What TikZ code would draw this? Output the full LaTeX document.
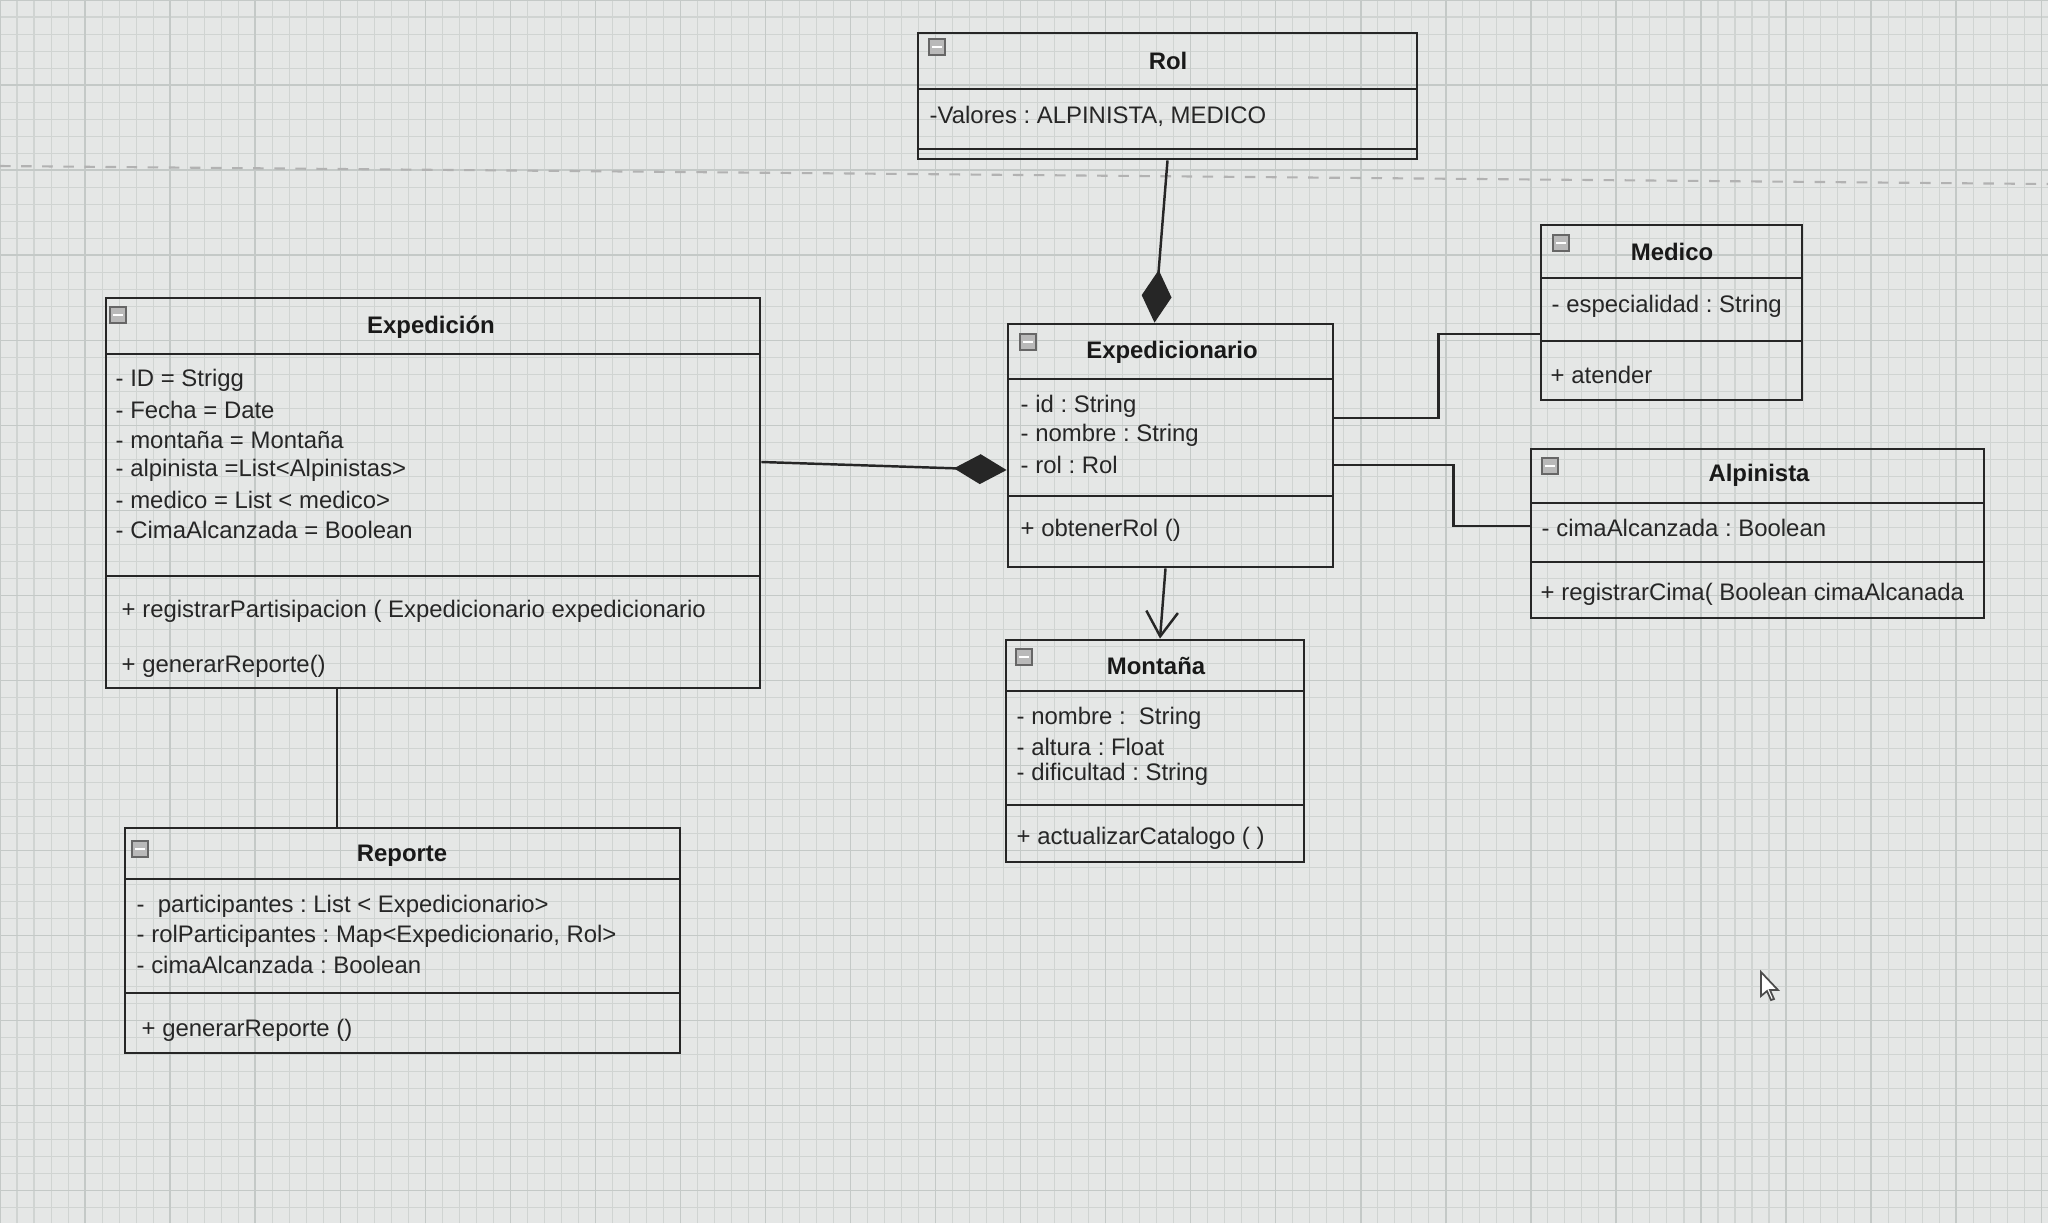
\documentclass[tikz,border=0pt]{standalone}
\usepackage{fontspec}
\setmainfont{Liberation Sans}
\usetikzlibrary{arrows.meta,fit}
\frenchspacing
\definecolor{paper}{RGB}{229,231,230}
\definecolor{gridline}{RGB}{208,212,210}
\definecolor{gridmajor}{RGB}{196,201,199}
\tikzset{
  classbox/.style={draw=black!85, line width=0.8pt, inner sep=0pt},
  divider/.style={draw=black!85, line width=0.8pt},
  member/.style={anchor=west, inner sep=0pt, text=black!85, font=\fontsize{6.8}{8}\selectfont},
  classname/.style={inner sep=0pt, text=black!90, font=\fontsize{6.8}{8}\selectfont\bfseries},
  link/.style={draw=black!85, line width=0.7pt},
  composition/.style={link, -{Diamond[length=15pt,width=8.5pt]}},
  navigable/.style={link, -{Straight Barb[length=7pt,width=9pt]}},
  collapse/.style={draw=black!60, fill=gray!55, line width=0.4pt},
}
\begin{document}
\begin{tikzpicture}[x=0.01cm, y=-0.01cm]
  \useasboundingbox (0,0) rectangle (2048,1223);
  % screen background
  \fill[paper] (0,0) rectangle (2048,1223);
  \draw[gridline, line width=0.3pt, step=0.17cm] (0,0) grid (2048,1223);
  \draw[gridmajor, line width=0.4pt, step=0.85cm] (0,0) grid (2048,1223);
  \draw[gray!60, dashed, line width=0.6pt] (0,166) -- (2048,184);

  % classes
  \node[classbox, fit={(918,33) (1417,159)}] (rol) {};
  \draw[divider] (918,89) -- (1417,89);
  \draw[divider] (918,149) -- (1417,149);
  \node[classname] at (1168,61) {Rol};
  \node[member] at (929,116) {-Valores : ALPINISTA, MEDICO};

  \node[classbox, fit={(1541,225) (1802,400)}] (medico) {};
  \draw[divider] (1541,278) -- (1802,278);
  \draw[divider] (1541,341) -- (1802,341);
  \node[classname] at (1672,252) {Medico};
  \node[member] at (1551,306) {- especialidad : String};
  \node[member] at (1550,375) {+ atender};

  \node[classbox, fit={(106,298) (760,688)}] (expedicion) {};
  \draw[divider] (106,354) -- (760,354);
  \draw[divider] (106,576) -- (760,576);
  \node[classname] at (431,327) {Expedición};
  \node[member] at (115,380) {- ID = Strigg};
  \node[member] at (115,410) {- Fecha = Date};
  \node[member] at (115,440) {- montaña = Montaña};
  \node[member] at (115,470) {- alpinista =List<Alpinistas>};
  \node[member] at (115,500) {- medico = List < medico>};
  \node[member] at (115,530) {- CimaAlcanzada = Boolean};
  \node[member] at (121,611) {+ registrarPartisipacion ( Expedicionario expedicionario};
  \node[member] at (121,666) {+ generarReporte()};

  \node[classbox, fit={(1008,324) (1333,567)}] (expedicionario) {};
  \draw[divider] (1008,379) -- (1333,379);
  \draw[divider] (1008,496) -- (1333,496);
  \node[classname] at (1172,352) {Expedicionario};
  \node[member] at (1020,406) {- id : String};
  \node[member] at (1020,435) {- nombre : String};
  \node[member] at (1020,465) {- rol : Rol};
  \node[member] at (1020,530) {+ obtenerRol ()};

  \node[classbox, fit={(1531,449) (1984,618)}] (alpinista) {};
  \draw[divider] (1531,503) -- (1984,503);
  \draw[divider] (1531,562) -- (1984,562);
  \node[classname] at (1759,475) {Alpinista};
  \node[member] at (1541,528) {- cimaAlcanzada : Boolean};
  \node[member] at (1540,594) {+ registrarCima( Boolean cimaAlcanada};

  \node[classbox, fit={(1006,640) (1304,862)}] (montana) {};
  \draw[divider] (1006,691) -- (1304,691);
  \draw[divider] (1006,805) -- (1304,805);
  \node[classname] at (1156,666) {Montaña};
  \node[member] at (1016,718) {- nombre :~ String};
  \node[member] at (1016,747) {- altura : Float};
  \node[member] at (1016,774) {- dificultad : String};
  \node[member] at (1016,838) {+ actualizarCatalogo ( )};

  \node[classbox, fit={(125,828) (680,1053)}] (reporte) {};
  \draw[divider] (125,879) -- (680,879);
  \draw[divider] (125,993) -- (680,993);
  \node[classname] at (402,856) {Reporte};
  \node[member] at (136,906) {-~ participantes : List < Expedicionario>};
  \node[member] at (136,936) {- rolParticipantes : Map<Expedicionario, Rol>};
  \node[member] at (136,965) {- cimaAlcanzada : Boolean};
  \node[member] at (141,1030) {+ generarReporte ()};

  % collapse buttons
  \foreach \x/\y in {929/39, 1553/235, 110/307, 1020/334, 1542/458, 1016/649, 132/841} {
    \draw[collapse] (\x,\y) rectangle ++(16,16);
    \draw[white, line width=0.6pt] (\x+3,\y+8) -- ++(10,0);
  }

  % relations
  \draw[composition] (rol.south) -- ([xshift=-1.6mm]expedicionario.north);
  \draw[composition] ([yshift=3.1mm]expedicion.east) -- ([yshift=-2.45mm]expedicionario.west);
  \draw[navigable] ([xshift=-0.5mm]expedicionario.south) -- ([xshift=0.5mm]montana.north);
  \draw[link] ([yshift=2.75mm]expedicionario.east) -- ++(104,0) |- ([yshift=-2.15mm]medico.west);
  \draw[link] ([yshift=-1.95mm]expedicionario.east) -- ++(119,0) |- ([yshift=0.75mm]alpinista.west);
  \draw[link] ([xshift=-9.6mm]expedicion.south) -- ([xshift=-9.6mm]expedicion.south |- reporte.north);

  % mouse pointer
  \draw[fill=white, draw=black!70, line width=0.5pt] (1761,972) -- ++(0,24) -- ++(6,-5)
    -- ++(4,9) -- ++(3,-1) -- ++(-4,-9) -- ++(8,0) -- cycle;
\end{tikzpicture}
\end{document}
